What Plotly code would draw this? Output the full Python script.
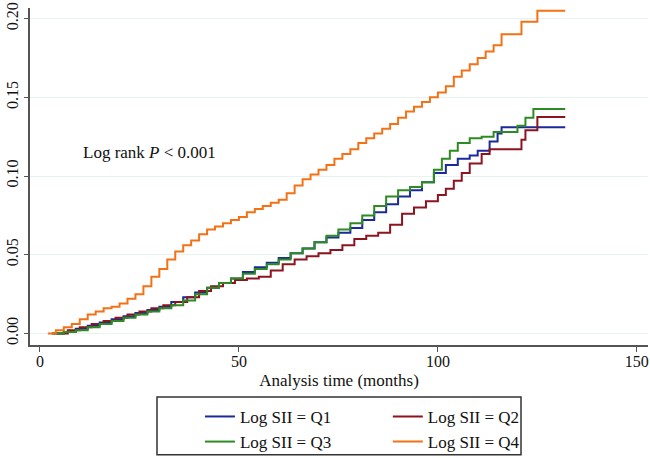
import plotly.graph_objects as go

# cumulative incidence (months, proportion)
t_q1 = [3, 6, 9, 12, 15, 18, 21, 24, 27, 30, 33, 36, 39, 42, 45, 48, 51, 54, 57, 60,
        63, 66, 69, 72, 75, 78, 81, 84, 87, 90, 93, 96, 99, 102, 105, 108, 110, 113, 115, 116, 132]
v_q1 = [0, .001, .003, .005, .007, .009, .011, .013, .015, .017, .020, .023, .026, .029, .032,
        .035, .039, .042, .045, .048, .051, .054, .058, .061, .064, .067, .072, .077, .082, .087,
        .091, .096, .102, .107, .111, .113, .116, .122, .127, .131, .131]

t_q2 = [4, 7, 10, 13, 16, 19, 22, 25, 28, 31, 34, 37, 40, 43, 46, 49, 52, 55, 58, 61, 64, 67,
        70, 73, 76, 79, 82, 85, 88, 91, 94, 97, 100, 102, 104, 106, 108, 111, 113, 121, 122, 125, 132]
v_q2 = [0, .002, .004, .006, .008, .010, .012, .014, .016, .018, .020, .023, .027, .030, .032,
        .034, .035, .036, .040, .044, .047, .049, .051, .053, .056, .060, .062, .064, .069, .076,
        .080, .084, .088, .092, .097, .102, .108, .114, .117, .123, .129, .1375, .1375]

t_q3 = [3, 6, 9, 12, 15, 18, 21, 24, 27, 30, 33, 36, 39, 42, 45, 48, 51, 54, 57, 60, 63, 66,
        69, 72, 75, 78, 81, 84, 87, 90, 93, 96, 99, 101, 103, 105, 108, 111, 114, 120, 122, 124, 132]
v_q3 = [0, .001, .002, .004, .006, .008, .010, .012, .014, .016, .018, .021, .025, .029, .032,
        .035, .038, .041, .044, .047, .051, .054, .058, .062, .066, .070, .075, .081, .087, .091,
        .093, .096, .104, .111, .116, .121, .124, .125, .128, .132, .137, .1425, .1425]

t_q4 = [2, 4, 6, 8, 10, 12, 14, 16, 18, 20, 22, 24, 26, 28, 30, 32, 34, 36, 38, 40, 42, 44, 46,
        48, 50, 52, 54, 56, 58, 60, 62, 64, 66, 68, 70, 72, 74, 76, 78, 80, 82, 84, 86, 88, 90,
        92, 94, 96, 98, 100, 102, 104, 106, 108, 110, 112, 114, 116, 121, 125, 132]
v_q4 = [0, .002, .004, .006, .009, .012, .014, .016, .017, .019, .022, .025, .030, .036, .041,
        .047, .052, .056, .059, .063, .066, .068, .070, .072, .074, .077, .079, .081, .083, .085,
        .089, .094, .098, .101, .104, .107, .111, .114, .117, .121, .124, .127, .130, .133, .137,
        .141, .144, .147, .150, .153, .157, .163, .167, .171, .175, .179, .183, .190, .198, .205, .205]

groups = ['Log SII = Q1', 'Log SII = Q2', 'Log SII = Q3', 'Log SII = Q4']
series = [(t_q1, v_q1), (t_q2, v_q2), (t_q3, v_q3), (t_q4, v_q4)]
colors = ['#1a2a9a', '#8c1420', '#2e8a22', '#f37216']
legend_ids = ['legend', 'legend2', 'legend', 'legend2']  # two legend columns

serif = 'Liberation Serif, Times New Roman, serif'

fig = go.Figure()
for name, (t, v), c, lg in zip(groups, series, colors, legend_ids):
    fig.add_trace(go.Scatter(x=t, y=v, mode='lines', name=name, legend=lg,
                             line=dict(color=c, width=2, shape='hv')))

fig.add_annotation(x=27.6, y=0.115, xref='x', yref='y', showarrow=False,
                   text='Log rank <i>P</i> < 0.001',
                   font=dict(family=serif, size=17, color='#111'))

# frame around the two legend columns
fig.add_shape(type='rect', xref='paper', yref='paper',
              x0=0.2055, x1=0.7945, y0=-0.154, y1=-0.326,
              line=dict(color='#333', width=1.5), fillcolor='rgba(0,0,0,0)')

fig.update_xaxes(range=[-2.5, 152.8], tickvals=[0, 50, 100, 150], automargin=False,
                 showgrid=False, zeroline=False,
                 showline=True, linecolor='#555', linewidth=2,
                 ticks='outside', ticklen=5, tickcolor='#555',
                 tickfont=dict(family=serif, size=16, color='#111'),
                 ticklabeloverflow='allow', ticklabelstandoff=-4,
                 title=dict(text='Analysis time (months)', standoff=5,
                            font=dict(family=serif, size=17, color='#111')))
fig.update_yaxes(range=[-0.0073, 0.2067], tickvals=[0, 0.05, 0.10, 0.15, 0.20],
                 tickformat='.2f', tickangle=-90, automargin=False,
                 showgrid=True, gridcolor='#e6f3ee', gridwidth=1, zeroline=False,
                 showline=True, linecolor='#555', linewidth=2,
                 ticks='outside', ticklen=4, tickcolor='#555',
                 ticklabeloverflow='allow',
                 tickfont=dict(family=serif, size=16, color='#111'))

leg_style = dict(orientation='v', yanchor='top', xanchor='left', bgcolor='rgba(0,0,0,0)',
                 borderwidth=0, tracegroupgap=0,
                 font=dict(family=serif, size=17, color='#111'))
fig.update_layout(
    width=650, height=458,
    margin=dict(l=30, r=2, t=8, b=113, autoexpand=False),
    plot_bgcolor='white', paper_bgcolor='white',
    legend=dict(x=0.275, y=-0.160, **leg_style),
    legend2=dict(x=0.579, y=-0.160, **leg_style),
    showlegend=True,
)

# drop the browser's default 8px page margin so the figure fills the window
fig.write_html('out.html', config={'displayModeBar': False},
               post_script="document.body.style.margin='0px';")
